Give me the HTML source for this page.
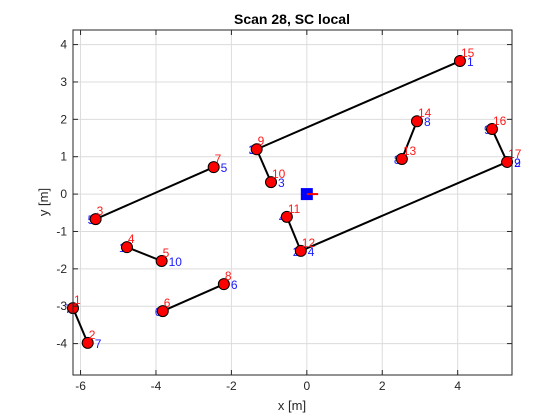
<!DOCTYPE html>
<html><head><meta charset="utf-8"><style>
body{margin:0;background:#fff;}
svg{display:block;font-family:"Liberation Sans",sans-serif;}
</style></head><body>
<svg id="chart" width="560" height="420" viewBox="0 0 560 420">
<rect x="0" y="0" width="560" height="420" fill="#fff"/>
<text x="292" y="24" font-size="14" font-weight="bold" text-anchor="middle" fill="#000">Scan 28, SC local</text>
<text x="292" y="410" font-size="13" text-anchor="middle" fill="#262626">x [m]</text>
<text x="0" y="0" font-size="13" text-anchor="middle" fill="#262626" transform="translate(48,202) rotate(-90)">y [m]</text>
<g id="grid"></g><g id="marks"></g><g id="axes"></g>
</svg>
<script>
const pointX=[-6.2,-5.81,-5.6,-4.77,-3.85,-3.82,-2.47,-2.2,-1.33,-0.95,-0.53,-0.16,2.52,2.92,4.06,4.91,5.31];
const pointY=[-3.05,-3.98,-0.67,-1.42,-1.79,-3.13,0.72,-2.41,1.2,0.32,-0.61,-1.52,0.94,1.95,3.56,1.74,0.86];
const segStart=[9,12,9,11,3,6,1,13,16,4];
const segEnd=[15,17,10,12,7,8,2,14,17,5];
const xTicks=[-6,-4,-2,0,2,4];
const yTicks=[-4,-3,-2,-1,0,1,2,3,4];
const L=73,R=512,T=30,B=375,XMIN=-6.2,XMAX=5.44,YMIN=-4.84,YMAX=4.39;
const sx=v=>L+(v-XMIN)/(XMAX-XMIN)*(R-L);
const sy=v=>B-(v-YMIN)/(YMAX-YMIN)*(B-T);
const NS="http://www.w3.org/2000/svg";
function mk(tag,attrs,parent,text){const e=document.createElementNS(NS,tag);for(const k in attrs)e.setAttribute(k,attrs[k]);if(text!==undefined)e.textContent=text;parent.appendChild(e);return e;}
const grid=document.getElementById('grid'),marks=document.getElementById('marks'),axes=document.getElementById('axes');
xTicks.forEach(t=>{const X=sx(t);
 let g=mk('line',{x1:X,x2:X,y1:T,y2:B,stroke:'#dcdcdc','stroke-width':1},grid);
 
 
 mk('line',{x1:X,x2:X,y1:B,y2:B-5,stroke:'#262626'},axes);mk('line',{x1:X,x2:X,y1:T,y2:T+5,stroke:'#262626'},axes);
 let l=mk('text',{x:X,y:B+15,'font-size':12,'text-anchor':'middle',fill:'#262626'},axes,String(t));
 
 });
yTicks.forEach(t=>{const Y=sy(t);
 let g=mk('line',{x1:L,x2:R,y1:Y,y2:Y,stroke:'#dcdcdc','stroke-width':1},grid);
 
 
 mk('line',{x1:L,x2:L+5,y1:Y,y2:Y,stroke:'#262626'},axes);mk('line',{x1:R,x2:R-5,y1:Y,y2:Y,stroke:'#262626'},axes);
 let l=mk('text',{x:L-6,y:Y+4,'font-size':12,'text-anchor':'end',fill:'#262626'},axes,String(t));
 
 });
let box=mk('rect',{x:L,y:T,width:R-L,height:B-T,fill:'none',stroke:'#262626','stroke-width':1},axes);


segStart.forEach((s,i)=>{const e=segEnd[i];
 let a=mk('text',{x:sx(pointX[s-1])-8,y:sy(pointY[s-1])+5,'font-size':12,fill:'#1a1aff'},marks,String(i+1));
 
 
 let ln=mk('line',{x1:sx(pointX[s-1]),y1:sy(pointY[s-1]),x2:sx(pointX[e-1]),y2:sy(pointY[e-1]),stroke:'#000','stroke-width':2},marks);
 
 
 let b=mk('text',{x:sx(pointX[e-1])+7,y:sy(pointY[e-1])+5,'font-size':12,fill:'#1a1aff'},marks,String(i+1));
 
 });
pointX.forEach((x,i)=>{const X=sx(x),Y=sy(pointY[i]);
 let c=mk('circle',{cx:X,cy:Y,r:5.5,fill:'#ff0000',stroke:'#000','stroke-width':1},marks);
 
 
 let t=mk('text',{x:X+1,y:Y-4,'font-size':12,fill:'#ff1a1a'},marks,String(i+1));
 
 });
let sq=mk('rect',{x:sx(0)-6,y:sy(0)-6,width:12,height:12,fill:'#0000ff'},marks);


let hd=mk('line',{x1:sx(0),y1:sy(0),x2:sx(0.3),y2:sy(0),stroke:'#ff0000','stroke-width':2},marks);


</script>
</body></html>
